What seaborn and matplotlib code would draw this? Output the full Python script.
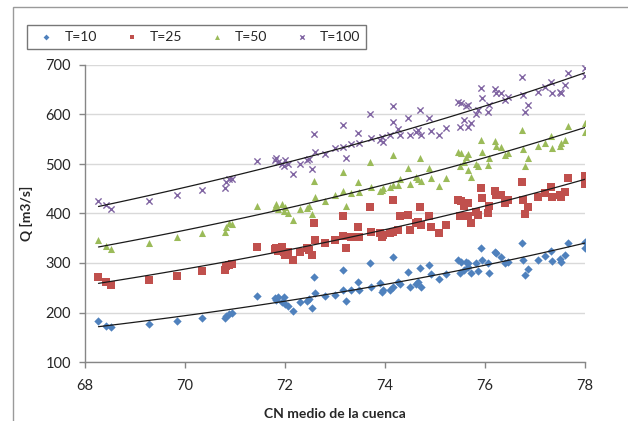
import numpy as np
import matplotlib
matplotlib.use("Agg")
import matplotlib.pyplot as plt
import seaborn as sns
from matplotlib.patches import Rectangle

# CN medio de la cuenca (same basins for all return periods)
cn = [68.27, 68.42, 68.51, 69.28, 69.85, 70.35, 70.79, 70.83, 70.88, 70.93,
      71.43, 71.79, 71.83, 71.87, 71.93, 71.99, 72.00, 72.07, 72.17, 72.30,
      72.43, 72.48, 72.55, 72.58, 72.60, 72.79, 73.00, 73.15, 73.17, 73.23,
      73.33, 73.47, 73.49, 73.70, 73.73, 73.90, 73.93, 73.97, 74.10, 74.15,
      74.17, 74.27, 74.30, 74.47, 74.50, 74.63, 74.67, 74.71, 74.73, 74.88,
      74.92, 75.08, 75.23, 75.47, 75.50, 75.53, 75.59, 75.63, 75.65, 75.67,
      75.73, 75.83, 75.87, 75.92, 75.94, 76.07, 76.09, 76.20, 76.23, 76.33,
      76.40, 76.47, 76.75, 76.77, 76.80, 76.87, 77.07, 77.20, 77.33, 77.35,
      77.50, 77.53, 77.60, 77.65, 78.00, 78.00]

q_t10 = [183, 172, 171, 176, 182, 189, 188, 193, 197, 200,
         233, 229, 225, 231, 222, 232, 217, 213, 204, 222,
         224, 227, 209, 272, 239, 233, 236, 286, 245, 224,
         245, 262, 246, 301, 252, 260, 242, 245, 245, 313,
         251, 262, 257, 282, 251, 258, 262, 289, 251, 296,
         278, 267, 278, 306, 280, 303, 286, 303, 292, 301,
         279, 301, 284, 330, 306, 299, 279, 323, 320, 313,
         299, 303, 340, 306, 276, 287, 307, 314, 325, 305,
         309, 303, 316, 341, 343, 330]

q_t25 = [271, 261, 256, 266, 274, 284, 285, 293, 296, 298,
         333, 328, 330, 325, 333, 323, 316, 322, 306, 323,
         330, 326, 316, 380, 346, 340, 346, 395, 355, 330,
         352, 373, 353, 414, 363, 360, 353, 357, 360, 427,
         363, 367, 394, 397, 367, 380, 383, 414, 377, 395,
         373, 361, 377, 427, 394, 426, 415, 421, 421, 394,
         380, 404, 397, 451, 431, 400, 416, 446, 437, 437,
         421, 427, 464, 427, 399, 413, 434, 441, 454, 433,
         437, 433, 444, 471, 476, 460]

q_t50 = [346, 334, 328, 341, 353, 361, 363, 373, 380, 379,
         416, 414, 419, 410, 419, 406, 414, 402, 387, 409,
         412, 415, 398, 466, 433, 425, 437, 484, 445, 416,
         441, 464, 444, 505, 454, 445, 448, 451, 454, 518,
         458, 458, 470, 491, 460, 474, 469, 512, 466, 491,
         471, 456, 471, 525, 495, 522, 505, 515, 520, 488,
         474, 501, 496, 548, 525, 498, 512, 547, 536, 535,
         518, 522, 569, 530, 496, 512, 536, 543, 557, 532,
         536, 543, 548, 577, 583, 565]

q_t100 = [426, 417, 409, 426, 437, 447, 451, 464, 469, 469,
          507, 508, 512, 505, 501, 496, 509, 500, 480, 501,
          508, 510, 489, 561, 525, 520, 532, 579, 534, 512,
          540, 562, 542, 602, 552, 548, 555, 545, 559, 618,
          585, 570, 559, 592, 559, 565, 569, 609, 559, 592,
          567, 559, 572, 626, 575, 623, 588, 617, 620, 575,
          582, 602, 609, 653, 633, 606, 619, 651, 643, 643,
          629, 636, 676, 639, 606, 619, 645, 655, 666, 643,
          646, 643, 660, 684, 693, 678]

labels = ["T=10", "T=25", "T=50", "T=100"]
series = [q_t10, q_t25, q_t50, q_t100]
colors = ["#4F81BD", "#C0504D", "#9BBB59", "#8064A2"]
markers = ["D", "s", "^", "x"]
sizes = [18, 26, 26, 20]

sns.set_style("white")
plt.rcParams["font.family"] = ["Lato", "DejaVu Sans"]

fig = plt.figure(figsize=(6.28, 4.21), dpi=100)
ax = fig.add_axes([85 / 628, 1 - 362 / 421, 500 / 628, 297 / 421])

x = np.array(cn)
for lab, q, col, mk, sz in zip(labels, series, colors, markers, sizes):
    if mk == "x":
        sns.scatterplot(x=x, y=q, marker=mk, color=col, s=sz, linewidth=1.0,
                        ax=ax, label=lab, zorder=3)
    else:
        sns.scatterplot(x=x, y=q, marker=mk, color=col, s=sz, linewidth=0,
                        ax=ax, label=lab, zorder=3)
    # exponential trend line
    b, a = np.polyfit(x, np.log(q), 1)
    xs = np.linspace(x.min(), x.max(), 100)
    ax.plot(xs, np.exp(a + b * xs), color="#1a1a1a", lw=0.9, zorder=4)

ax.set_xlim(68, 78)
ax.set_ylim(100, 700)
ax.set_xticks(range(68, 79, 2))
ax.set_yticks(range(100, 701, 100))
ax.yaxis.grid(True, color="#D9D9D9", lw=1)
ax.set_axisbelow(True)
for s in ["top", "right"]:
    ax.spines[s].set_visible(False)
for s in ["left", "bottom"]:
    ax.spines[s].set_color("#868686")
    ax.spines[s].set_linewidth(1)
ax.tick_params(axis="both", direction="out", length=4, width=1, color="#868686",
               labelsize=10.5, labelcolor="#262626",
               left=True, bottom=True)
ax.tick_params(axis="y", pad=6)
ax.tick_params(axis="x", pad=8)

ax.set_xlabel("CN medio de la cuenca", fontsize=10, fontweight="bold", labelpad=11)
ax.set_ylabel("Q [m3/s]", fontsize=10, fontweight="bold", labelpad=9)

handles, labs = ax.get_legend_handles_labels()
ax.legend_.remove()
leg = fig.legend(handles, labs, loc="center", ncol=4, mode="expand",
                 bbox_to_anchor=(27 / 628, 1 - 55 / 421, 339 / 628, 36 / 421),
                 fontsize=10, frameon=True, fancybox=False, markerscale=0.7,
                 handletextpad=0.3, borderaxespad=0)
leg.get_frame().set_edgecolor("#555555")
leg.get_frame().set_linewidth(1)

# outer chart border
fig.patches.append(Rectangle((13 / 628, -0.2), 1.2, 1.2 - 7 / 421,
                             transform=fig.transFigure, fill=False,
                             edgecolor="#9a9a9a", lw=1))

fig.savefig("out.png", dpi=100)
